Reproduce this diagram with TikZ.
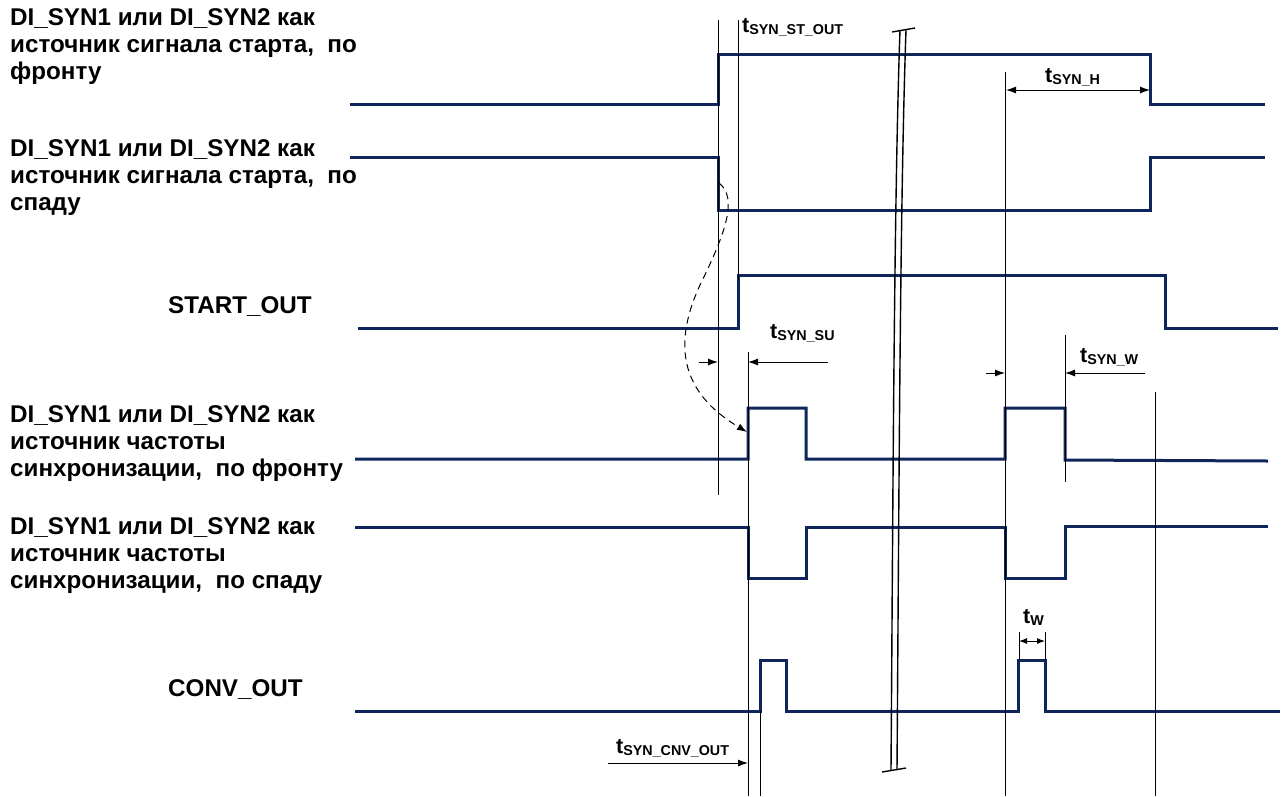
\documentclass[tikz,border=0pt]{standalone}
\usepackage{fontspec}
\setmainfont{Liberation Sans}
\usetikzlibrary{arrows.meta}
\definecolor{wave}{RGB}{14,38,92}
\newcommand{\tsub}[1]{{\fontsize{21.5}{21}\selectfont t}\raisebox{-2pt}{\fontsize{14.3}{14}\selectfont #1}}
\tikzset{
  sig/.style={wave, line width=3pt},
  guide/.style={black, line width=1pt},
  dim/.style={black, line width=1pt, -{Latex[length=10pt,width=7pt]}},
  siglabel/.style={anchor=north west, align=left, inner sep=0pt,
    font=\bfseries\fontsize{24.2}{27}\selectfont},
  tlabel/.style={anchor=base west, inner sep=0pt, font=\bfseries}
}
\begin{document}
\begin{tikzpicture}[x=1pt,y=-1pt]
  \useasboundingbox (0,0) rectangle (1285,796);
  % signal names
  \node[siglabel] (lab1) at (10,8) {DI\_SYN1 или DI\_SYN2 как\\источник сигнала старта,~ по\\фронту};
  \node[siglabel] (lab2) at (10,139) {DI\_SYN1 или DI\_SYN2 как\\источник сигнала старта,~ по\\спаду};
  \node[siglabel, anchor=base west] (lab3) at (168,313) {START\_OUT};
  \node[siglabel] (lab4) at (10,405) {DI\_SYN1 или DI\_SYN2 как\\источник частоты\\синхронизации,~ по фронту};
  \node[siglabel] (lab5) at (10,517) {DI\_SYN1 или DI\_SYN2 как\\источник частоты\\синхронизации,~ по спаду};
  \node[siglabel, anchor=base west] (lab6) at (168,696) {CONV\_OUT};
  % waveforms
  \draw[sig] (350,104) -| (718,54) -| (1150,104) -- (1265,104);
  \draw[sig] (350,157) -| (718,210) -| (1150,157) -- (1265,157);
  \draw[sig] (358,328) -| (738,275) -| (1165,328) -- (1278,328);
  \draw[sig] (355,459) -| (748,408) -| (806,459) -| (1005,408) -| (1065,460) -- (1268,461);
  \draw[sig] (355,527) -| (748,578) -| (806,527) -| (1005,578) -| (1065,526) -- (1268,526);
  \draw[sig] (355,711) -| (760,660) -| (786,711) -| (1018,660) -| (1045,711) -- (1280,711);
  % timing guides
  \begin{scope}[guide]
    \draw (718,20) -- (718,495);
    \draw (738,20) -- (738,280);
    \draw (748,352) -- (748,796);
    \draw (760,711) -- (760,796);
    \draw (1005,72) -- (1005,796);
    \draw (1065,335) -- (1065,482);
    \draw (1155,392) -- (1155,796);
    \draw (1019,632) -- (1019,660);
    \draw (1045,632) -- (1045,660);
  \end{scope}
  % break mark
  \begin{scope}[black, line width=1.4pt]
    \draw (900,30) .. controls (894,200) and (893,500) .. (891,770);
    \draw (906,30) .. controls (900,200) and (899,500) .. (897,770);
    \draw (892,32) -- (915,28);
    \draw (882,772) -- (906,768);
  \end{scope}
  % timing labels
  \node[tlabel] (tstout) at (742,32) {\tsub{SYN\_ST\_OUT}};
  \node[tlabel] (tsynh) at (1045,82) {\tsub{SYN\_H}};
  \node[tlabel] (tsynsu) at (770,338) {\tsub{SYN\_SU}};
  \node[tlabel] (tsynw) at (1080,362) {\tsub{SYN\_W}};
  \node[tlabel] (tw) at (1023,623) {\tsub{W}};
  \node[tlabel] (tcnv) at (616,753) {\tsub{SYN\_CNV\_OUT}};
  % dimension arrows
  \coordinate (h1) at (1006,90);  \coordinate (h2) at (1150,90);
  \coordinate (su0) at (699,362); \coordinate (su1) at (718,362);
  \coordinate (su2) at (828,362); \coordinate (su3) at (748,362);
  \coordinate (w0) at (986,373);  \coordinate (w1) at (1005,373);
  \coordinate (w2) at (1145,373); \coordinate (w3) at (1065,373);
  \coordinate (tw1) at (1019,641); \coordinate (tw2) at (1045,641);
  \coordinate (c0) at (608,763);  \coordinate (c1) at (748,763);
  \draw[dim, {Latex[length=10pt,width=7pt]}-{Latex[length=10pt,width=7pt]}] (h1) -- (h2);
  \draw[dim] (su0) -- (su1);
  \draw[dim] (su2) -- (su3);
  \draw[dim] (w0) -- (w1);
  \draw[dim] (w2) -- (w3);
  \draw[dim, {Latex[length=8pt,width=6pt]}-{Latex[length=8pt,width=6pt]}] (tw1) -- (tw2);
  \draw[dim] (c0) -- (c1);
  % start edge to sync edge
  \coordinate (fall) at (719,183);
  \coordinate (sync) at (747,432);
  \draw[dim, dashed, dash pattern=on 7pt off 5pt] (fall) .. controls (738,198) and (726,232) .. (700,285)
    .. controls (670,350) and (685,395) .. (sync);
\end{tikzpicture}
\end{document}
